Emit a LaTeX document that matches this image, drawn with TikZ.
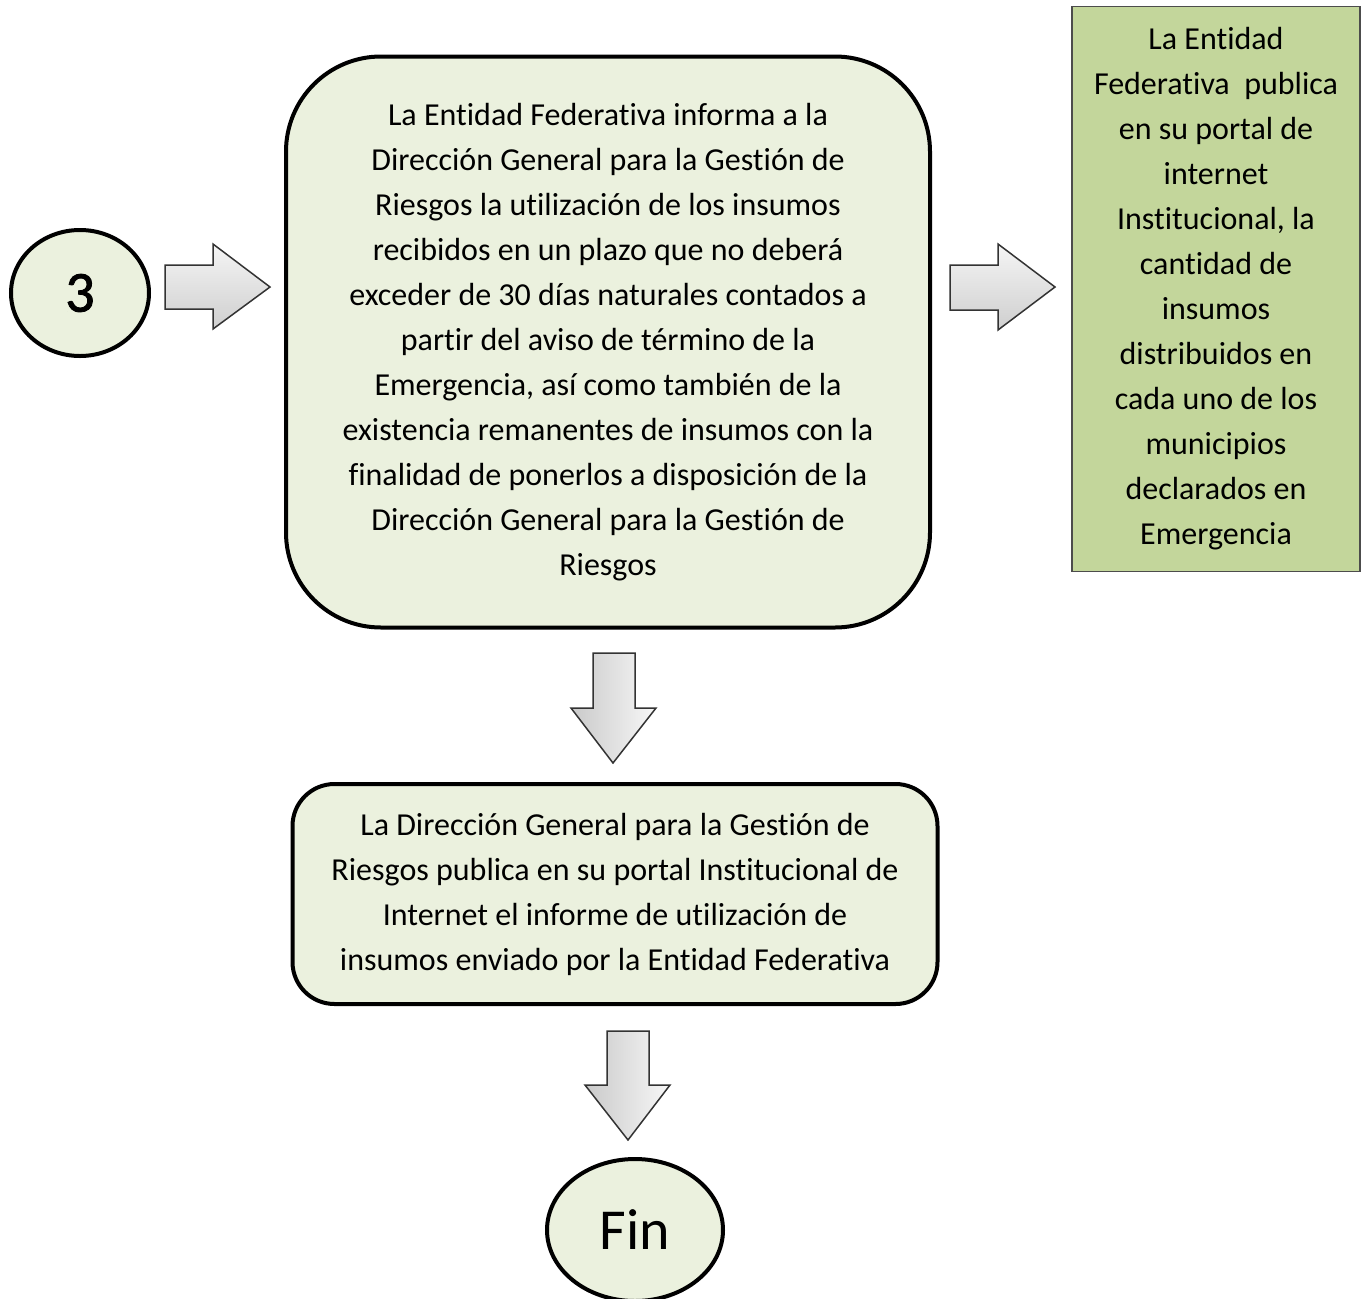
\documentclass[tikz,border=0pt]{standalone}
\usepackage{fontspec}
\setmainfont{Carlito}[Ligatures=NoCommon]
\usetikzlibrary{shapes.geometric}
\definecolor{fondo}{HTML}{EBF1DE}
\definecolor{verde}{HTML}{C3D69B}
\tikzset{
	caja/.style={draw=black, line width=4pt, fill=fondo, align=center, inner sep=0pt, font=\fontsize{32}{45}\selectfont},
	verdecaja/.style={draw=black!70, line width=1.5pt, fill=verde, align=center, inner sep=0pt, font=\fontsize{32}{45}\selectfont},
	flechader/.style={draw=black!80, line width=1.5pt, top color=gray!8, bottom color=gray!38, line join=miter},
	flechaabajo/.style={draw=black!80, line width=1.5pt, left color=gray!42, right color=gray!6, line join=miter}
}
\begin{document}
\begin{tikzpicture}[x=1pt, y=-1pt]
	\useasboundingbox (0,0) rectangle (1361,1299);

	% nodos
	\node[caja, shape=ellipse, minimum width=138, minimum height=126, font=\fontsize{58}{60}\selectfont\addfontfeature{FakeBold=1.5}] (inicio) at (80,293) {3};
	\node[caja, shape=rectangle, rounded corners=95, minimum width=644, minimum height=571] (informa) at (608,342) {La Entidad Federativa informa a la\\Dirección General para la Gestión de\\Riesgos la utilización de los insumos\\recibidos en un plazo que no deberá\\exceder de 30 días naturales contados a\\partir del aviso de término de la\\Emergencia, así como también de la\\existencia remanentes de insumos con la\\finalidad de ponerlos a disposición de la\\Dirección General para la Gestión de\\Riesgos};
	\node[verdecaja, shape=rectangle, minimum width=288, minimum height=565] (entidad) at (1216,289) {La Entidad\\Federativa\ \ publica\\en su portal de\\internet\\Institucional, la\\cantidad de\\insumos\\distribuidos en\\cada uno de los\\municipios\\declarados en\\Emergencia};
	\node[caja, shape=rectangle, rounded corners=42, minimum width=645, minimum height=220] (direccion) at (615,894) {La Dirección General para la Gestión de\\Riesgos publica en su portal Institucional de\\Internet el informe de utilización de\\insumos enviado por la Entidad Federativa};
	\node[caja, shape=ellipse, minimum width=176, minimum height=142, font=\fontsize{58}{60}\selectfont] (fin) at (635,1230) {Fin};

	% flechas
	\draw[flechader] (165,265) -- (213,265) -- (213,244) -- (270,287) -- (213,329) -- (213,309) -- (165,309) -- cycle;
	\draw[flechader] (950,265) -- (998,265) -- (998,244) -- (1055,287) -- (998,330) -- (998,310) -- (950,310) -- cycle;
	\draw[flechaabajo] (593,653) -- (635,653) -- (635,708) -- (656,708) -- (613,763) -- (571,708) -- (593,708) -- cycle;
	\draw[flechaabajo] (607,1031) -- (649,1031) -- (649,1085) -- (670,1085) -- (628,1140) -- (585,1085) -- (607,1085) -- cycle;
\end{tikzpicture}
\end{document}
